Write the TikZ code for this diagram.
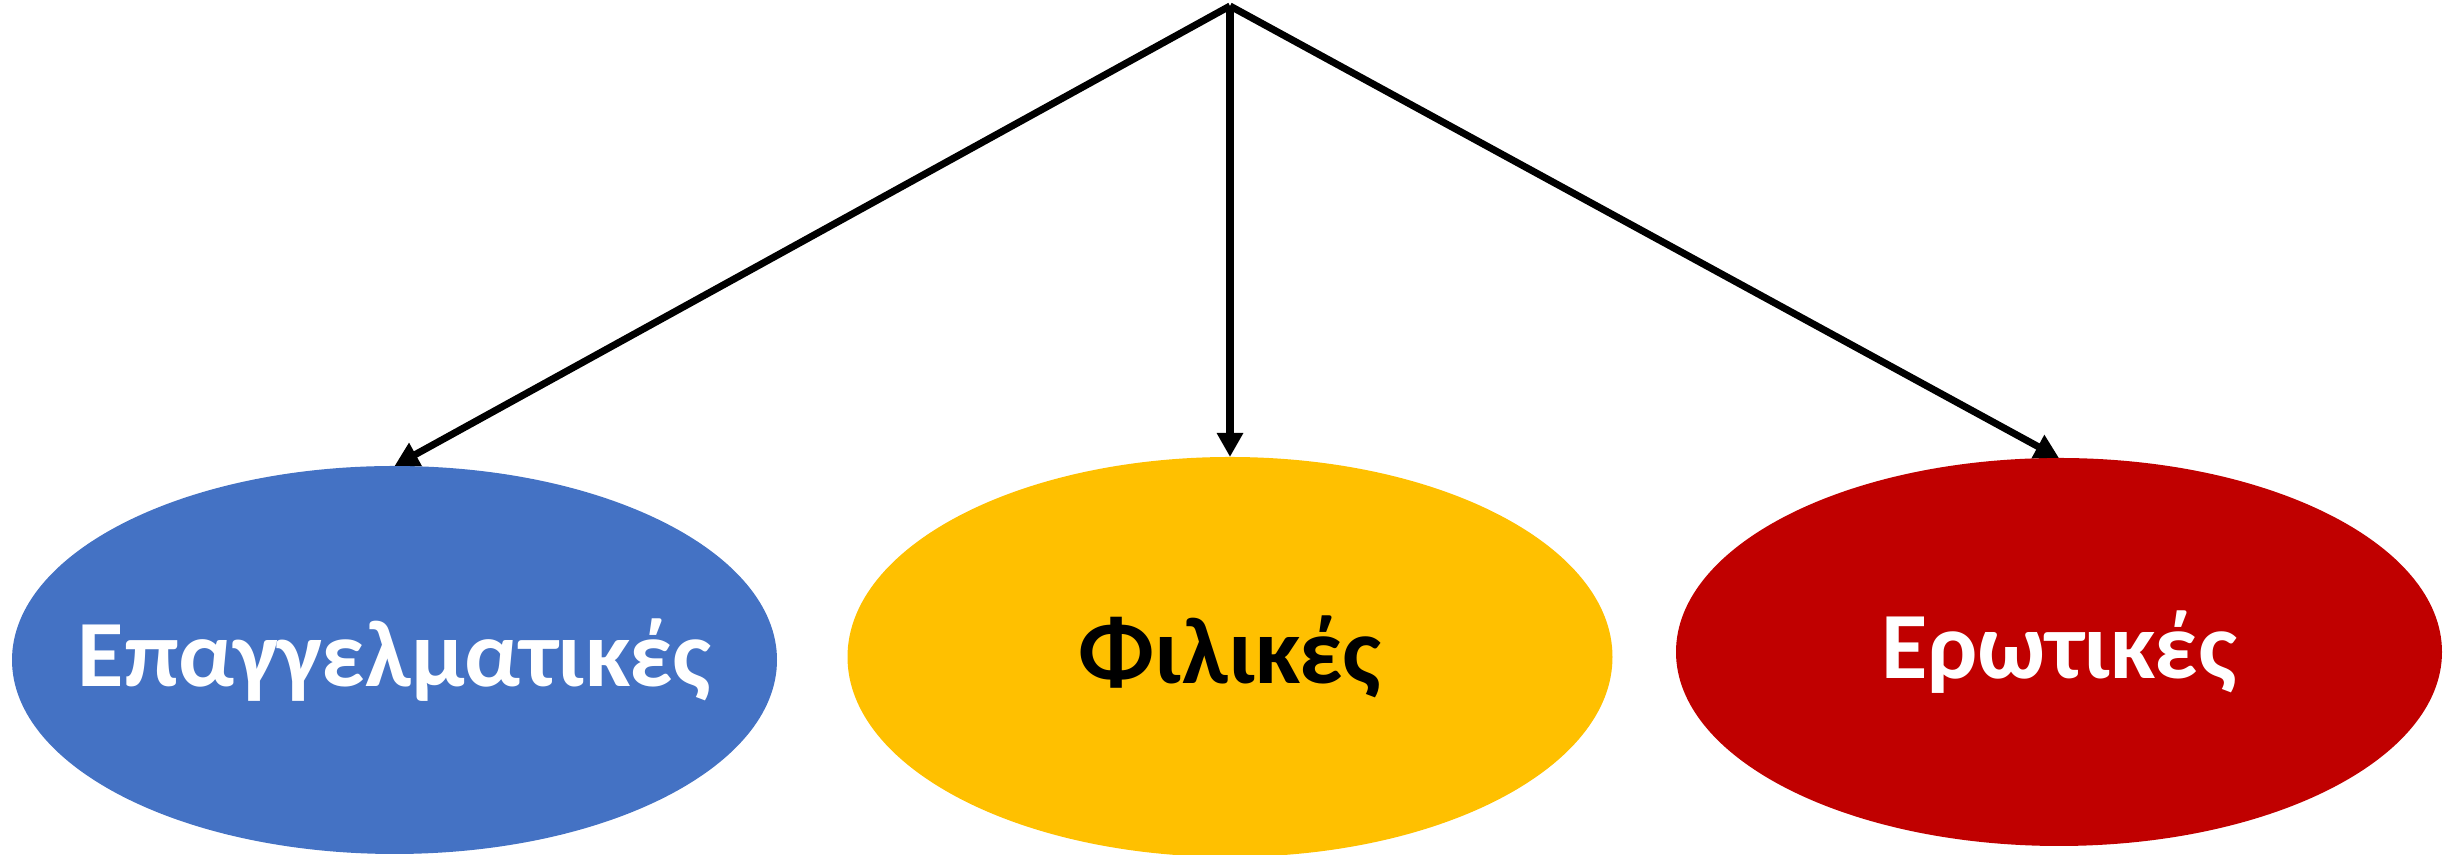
\documentclass[tikz,border=0pt]{standalone}
\usepackage{fontspec}
\setmainfont{Carlito}
\usepackage{tikz}
\usetikzlibrary{arrows.meta,positioning,shapes.geometric}
\usepackage{xcolor}
\definecolor{relBlue}{HTML}{4472C4}
\definecolor{relGold}{HTML}{FFC000}
\definecolor{relRed}{HTML}{C00000}
\tikzset{
    relnode/.style={ellipse,draw=none,inner sep=0pt,outer sep=0pt,minimum width=7.65cm,minimum height=3.88cm,font=\fontsize{27}{32}\selectfont\bfseries},
    relarrow/.style={-{Triangle[length=0.24cm,width=0.25cm]},line width=2pt,black}
}
\newcommand{\reltext}[1]{\makebox[0pt]{\raisebox{0.08cm}{#1}}}

\begin{document}
\begin{tikzpicture}
\useasboundingbox (0,0) rectangle (24.55,8.55);

% Top point where the arrows start
\coordinate (top) at (12.30,8.49);

% The three kinds of relations
\node[relnode,fill=relBlue,text=white] at (3.945,1.95) (epag) {\reltext{Επαγγελματικές}};
\node[relnode,fill=relGold,text=black,minimum height=4.0cm] at (12.30,1.98) (fil) {\reltext{Φιλικές}};
\node[relnode,fill=relRed,text=white,minimum width=7.66cm] at (20.59,2.03) (erot) {\reltext{Ερωτικές}};

% Arrows
\draw[relarrow] (top) -- (epag.north);
\draw[relarrow] (top) -- (fil.north);
\draw[relarrow] (top) -- (erot.north);

\end{tikzpicture}
\end{document}
